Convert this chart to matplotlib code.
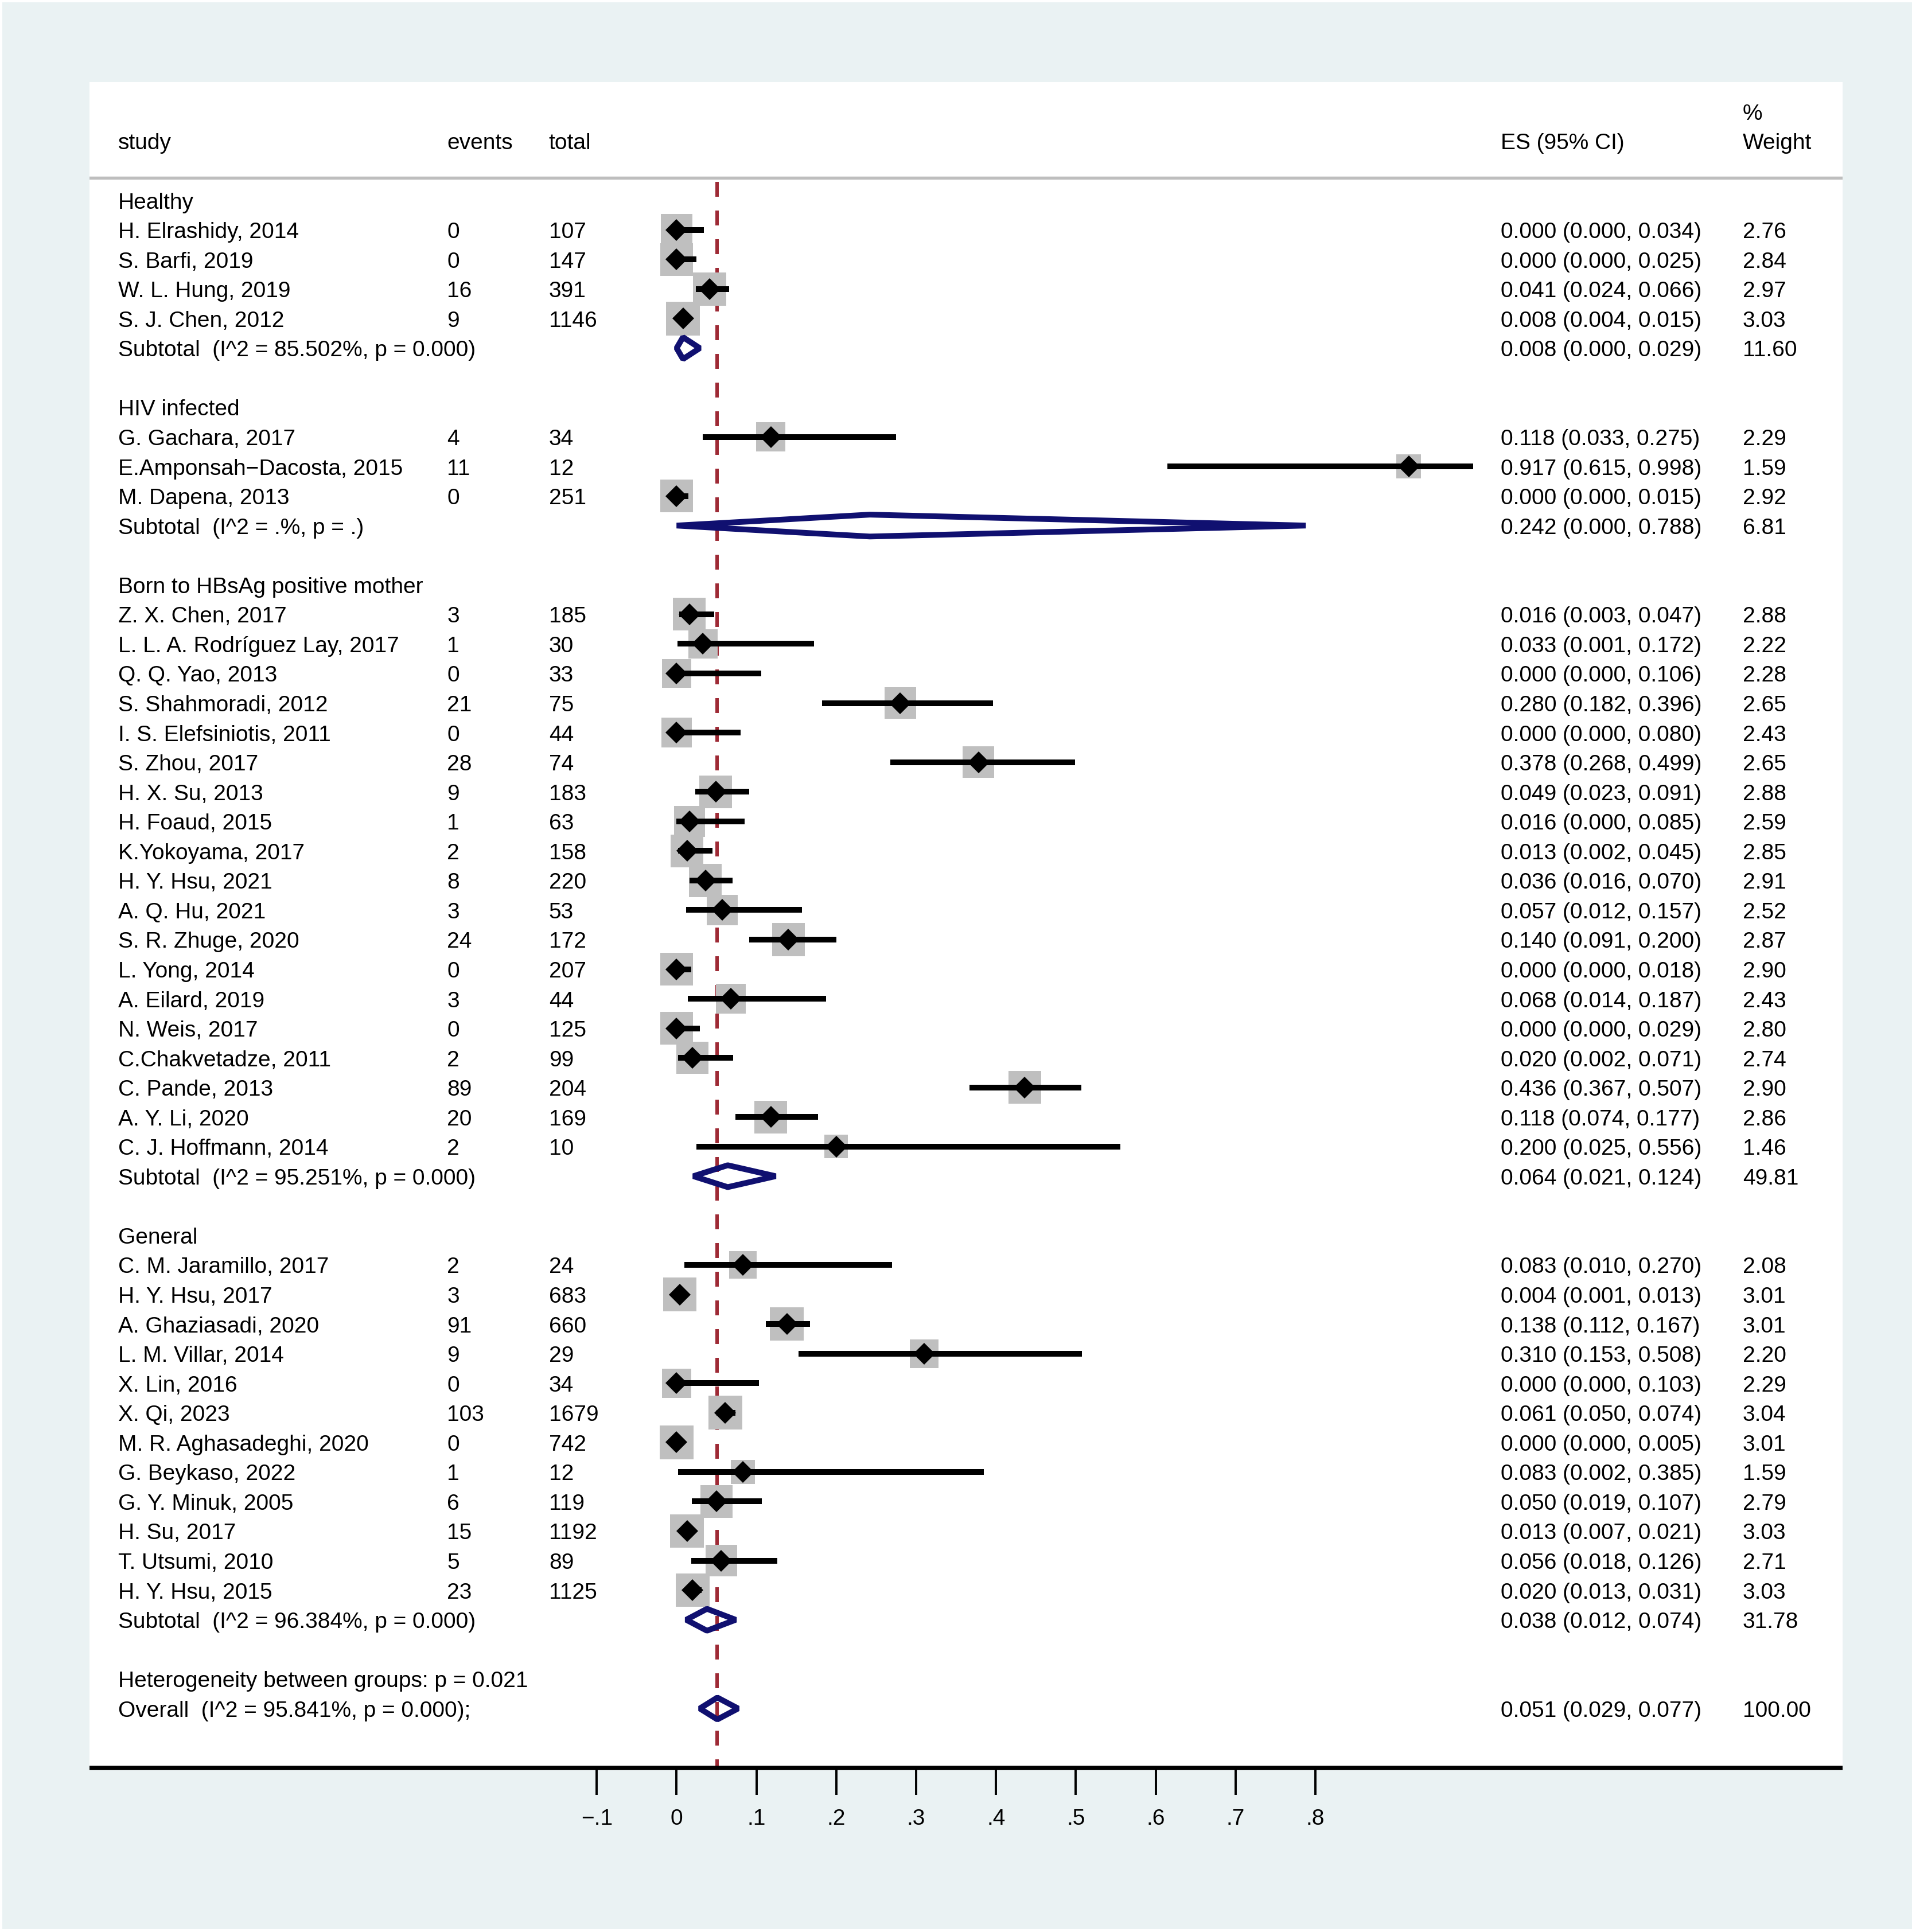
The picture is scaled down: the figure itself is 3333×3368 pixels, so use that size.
import matplotlib
matplotlib.use("Agg")
import matplotlib.pyplot as plt
from matplotlib.patches import Polygon, Rectangle

plt.rcParams['font.family'] = ['Liberation Sans', 'DejaVu Sans']
plt.rcParams['lines.scale_dashes'] = False

# ---------------- data ----------------
group_names = ["Healthy", "HIV infected", "Born to HBsAg positive mother", "General"]

study_group = [0] * 4 + [1] * 3 + [2] * 19 + [3] * 12

study_names = [
    "H. Elrashidy, 2014", "S. Barfi, 2019", "W. L. Hung, 2019", "S. J. Chen, 2012",
    "G. Gachara, 2017", "E.Amponsah\u2212Dacosta, 2015", "M. Dapena, 2013",
    "Z. X. Chen, 2017", "L. L. A. Rodr\u00edguez Lay, 2017", "Q. Q. Yao, 2013",
    "S. Shahmoradi, 2012", "I. S. Elefsiniotis, 2011", "S. Zhou, 2017",
    "H. X. Su, 2013", "H. Foaud, 2015", "K.Yokoyama, 2017", "H. Y. Hsu, 2021",
    "A. Q. Hu, 2021", "S. R. Zhuge, 2020", "L. Yong, 2014", "A. Eilard, 2019",
    "N. Weis, 2017", "C.Chakvetadze, 2011", "C. Pande, 2013", "A. Y. Li, 2020",
    "C. J. Hoffmann, 2014",
    "C. M. Jaramillo, 2017", "H. Y. Hsu, 2017", "A. Ghaziasadi, 2020",
    "L. M. Villar, 2014", "X. Lin, 2016", "X. Qi, 2023", "M. R. Aghasadeghi, 2020",
    "G. Beykaso, 2022", "G. Y. Minuk, 2005", "H. Su, 2017", "T. Utsumi, 2010",
    "H. Y. Hsu, 2015",
]

events = [0, 0, 16, 9,
          4, 11, 0,
          3, 1, 0, 21, 0, 28, 9, 1, 2, 8, 3, 24, 0, 3, 0, 2, 89, 20, 2,
          2, 3, 91, 9, 0, 103, 0, 1, 6, 15, 5, 23]

totals = [107, 147, 391, 1146,
          34, 12, 251,
          185, 30, 33, 75, 44, 74, 183, 63, 158, 220, 53, 172, 207, 44, 125, 99, 204, 169, 10,
          24, 683, 660, 29, 34, 1679, 742, 12, 119, 1192, 89, 1125]

es = [0.000, 0.000, 0.041, 0.008,
      0.118, 0.917, 0.000,
      0.016, 0.033, 0.000, 0.280, 0.000, 0.378, 0.049, 0.016, 0.013, 0.036, 0.057,
      0.140, 0.000, 0.068, 0.000, 0.020, 0.436, 0.118, 0.200,
      0.083, 0.004, 0.138, 0.310, 0.000, 0.061, 0.000, 0.083, 0.050, 0.013, 0.056, 0.020]

ci_lo = [0.000, 0.000, 0.024, 0.004,
         0.033, 0.615, 0.000,
         0.003, 0.001, 0.000, 0.182, 0.000, 0.268, 0.023, 0.000, 0.002, 0.016, 0.012,
         0.091, 0.000, 0.014, 0.000, 0.002, 0.367, 0.074, 0.025,
         0.010, 0.001, 0.112, 0.153, 0.000, 0.050, 0.000, 0.002, 0.019, 0.007, 0.018, 0.013]

ci_hi = [0.034, 0.025, 0.066, 0.015,
         0.275, 0.998, 0.015,
         0.047, 0.172, 0.106, 0.396, 0.080, 0.499, 0.091, 0.085, 0.045, 0.070, 0.157,
         0.200, 0.018, 0.187, 0.029, 0.071, 0.507, 0.177, 0.556,
         0.270, 0.013, 0.167, 0.508, 0.103, 0.074, 0.005, 0.385, 0.107, 0.021, 0.126, 0.031]

weights = [2.76, 2.84, 2.97, 3.03,
           2.29, 1.59, 2.92,
           2.88, 2.22, 2.28, 2.65, 2.43, 2.65, 2.88, 2.59, 2.85, 2.91, 2.52, 2.87, 2.90,
           2.43, 2.80, 2.74, 2.90, 2.86, 1.46,
           2.08, 3.01, 3.01, 2.20, 2.29, 3.04, 3.01, 1.59, 2.79, 3.03, 2.71, 3.03]

sub_es = [0.008, 0.242, 0.064, 0.038]
sub_lo = [0.000, 0.000, 0.021, 0.012]
sub_hi = [0.029, 0.788, 0.124, 0.074]
sub_weight = [11.60, 6.81, 49.81, 31.78]
sub_i2 = ["85.502", ".", "95.251", "96.384"]
sub_p = ["0.000", ".", "0.000", "0.000"]

overall_es = 0.051
overall_lo = 0.029
overall_hi = 0.077
overall_weight = 100.00
overall_i2 = "95.841"
overall_p = "0.000"
between_p = "0.021"

tick_values = [-0.1, 0.0, 0.1, 0.2, 0.3, 0.4, 0.5, 0.6, 0.7, 0.8]
tick_labels = ["\u2212.1", "0", ".1", ".2", ".3", ".4", ".5", ".6", ".7", ".8"]

col_headers = ["study", "events", "total", "ES (95% CI)", "Weight"]

# ---------------- styling ----------------
W, H = 3333, 3368
BG = '#eaf2f3'
BOX = '#bfbfbf'
NAVY = '#101070'
RED = '#9e2a35'
FS = 28

x_study, x_events, x_total, x_es, x_w = -0.6995, -0.2875, -0.160, 1.0323, 1.3354
XMIN, XMAX = -0.7354, 1.4604
YTOP, YBOT = -3.998, 53.01
BASE = 0.28      # baseline offset (rows)
DH = 0.37        # half-height of pooled diamonds (rows)

fig = plt.figure(figsize=(W / 100, H / 100), dpi=100)
fig.patch.set_facecolor('white')
fig.add_artist(Rectangle((4 / W, 5 / H), 1 - 4 / W, 1 - 9 / H, transform=fig.transFigure,
                         facecolor=BG, edgecolor='none', zorder=-10))

ax = fig.add_axes([156 / W, 1 - 3082 / H, (3212 - 156) / W, (3082 - 143) / H])
ax.set_facecolor('white')
ax.set_xlim(XMIN, XMAX)
ax.set_ylim(YBOT, YTOP)
for s in ['top', 'left', 'right']:
    ax.spines[s].set_visible(False)
ax.spines['bottom'].set_linewidth(5.5)
ax.spines['bottom'].set_color('black')
ax.spines['bottom'].set_capstyle('butt')
ax.set_yticks([])
ax.set_xticks(tick_values)
ax.set_xticklabels(tick_labels)
ax.tick_params(axis='x', direction='out', length=34, width=2.8, pad=17,
               labelsize=FS, colors='black')


def txt(x, y, s, ha='left'):
    ax.text(x, y + BASE, s, fontsize=FS, ha=ha, va='baseline', color='black')


# headers
for xh, lab in zip([x_study, x_events, x_total, x_es, x_w], col_headers):
    txt(xh, -2, lab)
txt(x_w, -3, "%")
ax.axhline(-0.758, color='#bebebe', lw=3.9, zorder=2)

# reference line
ax.plot([overall_es, overall_es], [-0.623, YBOT], color=RED, lw=4.3,
        linestyle=(0, (18.7, 17.3)), dash_capstyle='butt', zorder=2)

# rows
row = 0
study_rows = []
sub_rows = []
for g, gname in enumerate(group_names):
    txt(x_study, row, gname)
    row += 1
    for i, gi in enumerate(study_group):
        if gi == g:
            study_rows.append(row)
            row += 1
    sub_rows.append(row)
    row += 2
het_row = row
overall_row = het_row + 1

for i, r in enumerate(study_rows):
    txt(x_study, r, study_names[i])
    txt(x_events, r, str(events[i]))
    txt(x_total, r, str(totals[i]))
    txt(x_es, r, f"{es[i]:.3f} ({ci_lo[i]:.3f}, {ci_hi[i]:.3f})")
    txt(x_w, r, f"{weights[i]:.2f}")

ax.scatter(es, study_rows, s=[588.6 * w for w in weights], marker='s', color=BOX,
           edgecolors='none', zorder=3)
ax.hlines(study_rows, ci_lo, ci_hi, color='black', lw=7.2, zorder=4)
ax.plot(es, study_rows, linestyle='none', marker='D', ms=19, color='black',
        markeredgewidth=0, zorder=5)


def pooled(e, lo, hi, y):
    ax.add_patch(Polygon([(lo, y), (e, y - DH), (hi, y), (e, y + DH)], closed=True,
                         fill=False, edgecolor=NAVY, lw=7.2, joinstyle='bevel', zorder=6))


for g, r in enumerate(sub_rows):
    txt(x_study, r, f"Subtotal  (I^2 = {sub_i2[g]}%, p = {sub_p[g]})")
    txt(x_es, r, f"{sub_es[g]:.3f} ({sub_lo[g]:.3f}, {sub_hi[g]:.3f})")
    txt(x_w, r, f"{sub_weight[g]:.2f}")
    pooled(sub_es[g], sub_lo[g], sub_hi[g], r)

txt(x_study, het_row, f"Heterogeneity between groups: p = {between_p}")
txt(x_study, overall_row, f"Overall  (I^2 = {overall_i2}%, p = {overall_p});")
txt(x_es, overall_row, f"{overall_es:.3f} ({overall_lo:.3f}, {overall_hi:.3f})")
txt(x_w, overall_row, f"{overall_weight:.2f}")
pooled(overall_es, overall_lo, overall_hi, overall_row)

fig.savefig("out.png", dpi=100, facecolor=fig.get_facecolor())
